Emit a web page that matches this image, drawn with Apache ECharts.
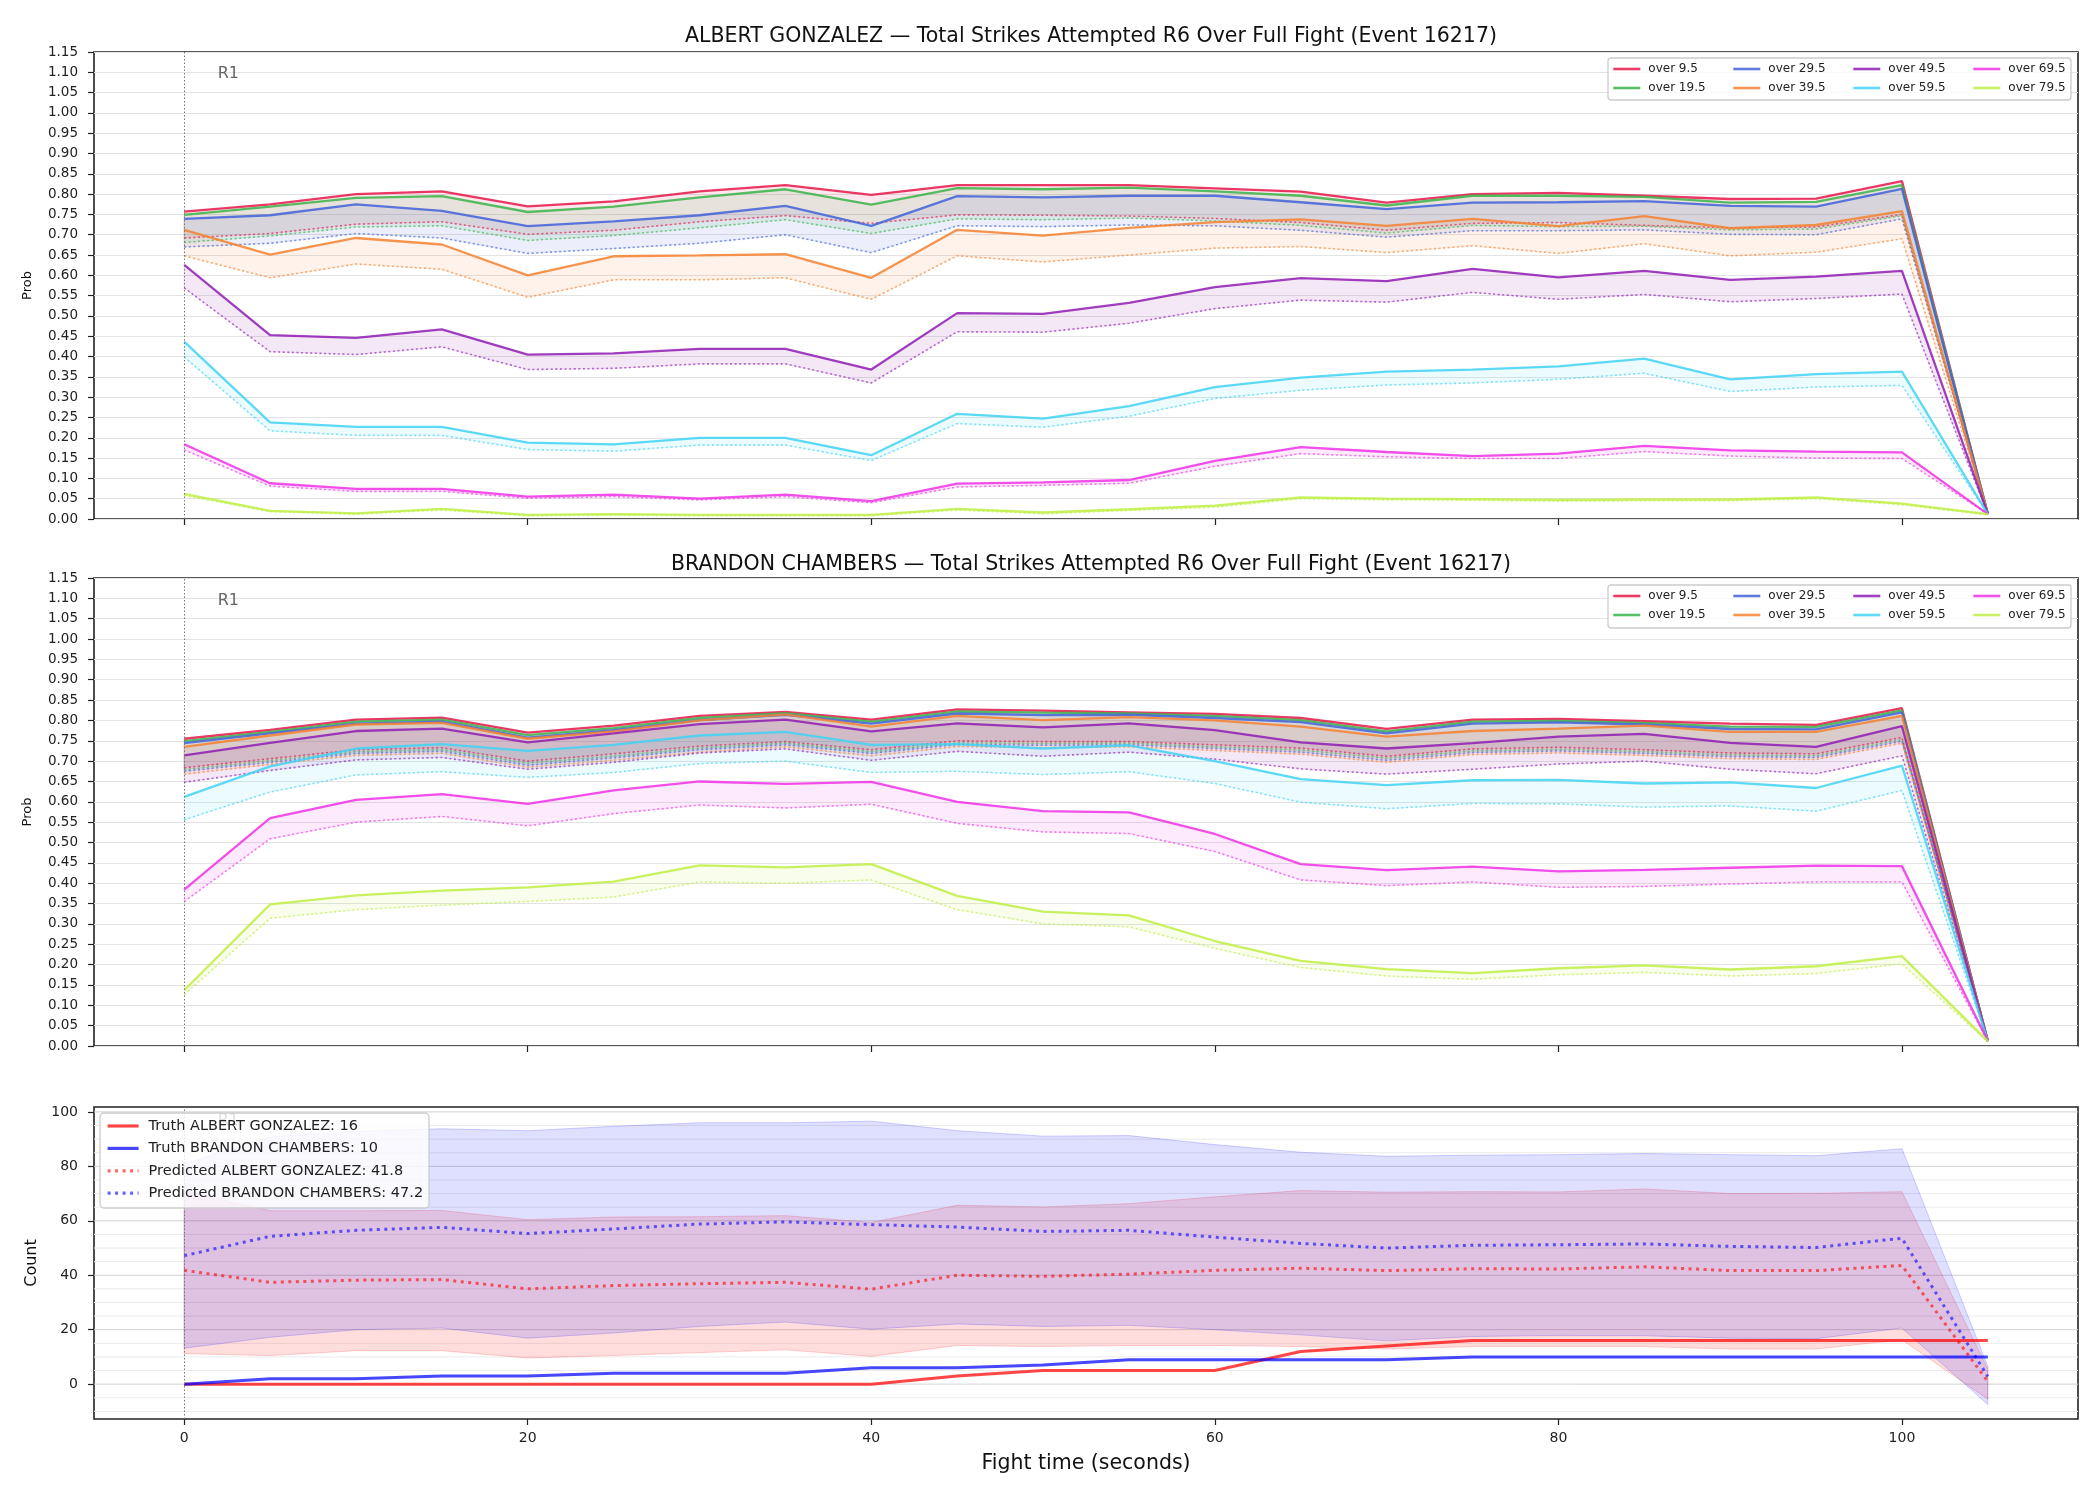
<!DOCTYPE html>
<html><head><meta charset="utf-8">
<script src="https://cdn.jsdelivr.net/npm/echarts@6/dist/echarts.min.js"></script>
<style>html,body{margin:0;padding:0;background:#fff}#c{width:2100px;height:1500px}</style>
</head><body><div id="c"></div>
<script>
// ---------------- DATA ----------------
const times = [0,5,10,15,20,25,30,35,40,45,50,55,60,65,70,75,80,85,90,95,100,105];
const xTicks = [0,20,40,60,80,100];
const countTicks = [0,20,40,60,80,100];
const countGridValues = [-10,-5,0,5,10,15,20,25,30,35,40,45,50,55,60,65,70,75,80,85,90,95,100];
const thresholds = ['over 9.5','over 19.5','over 29.5','over 39.5','over 49.5','over 59.5','over 69.5','over 79.5'];
const fighterA = 'ALBERT GONZALEZ';
const fighterB = 'BRANDON CHAMBERS';
const eventId = 16217;
const roundStarts = [0];
const roundNames = ['R1'];

// ALBERT GONZALEZ: solid (hi) and dotted (lo) probability lines
const ag_o9_hi  = [0.757,0.775,0.800,0.807,0.770,0.782,0.807,0.822,0.798,0.822,0.822,0.822,0.814,0.806,0.779,0.800,0.803,0.796,0.788,0.789,0.832,0.012];
const ag_o9_lo  = [0.692,0.703,0.726,0.732,0.701,0.711,0.732,0.747,0.728,0.749,0.748,0.746,0.740,0.730,0.711,0.728,0.730,0.723,0.717,0.719,0.750,0.012];
const ag_o19_hi = [0.749,0.769,0.791,0.795,0.756,0.769,0.792,0.812,0.774,0.815,0.812,0.816,0.807,0.796,0.772,0.796,0.796,0.793,0.779,0.781,0.822,0.012];
const ag_o19_lo = [0.681,0.697,0.719,0.722,0.686,0.698,0.717,0.737,0.703,0.739,0.737,0.741,0.734,0.723,0.704,0.723,0.720,0.721,0.712,0.714,0.747,0.012];
const ag_o29_hi = [0.739,0.748,0.775,0.759,0.721,0.733,0.748,0.771,0.722,0.795,0.792,0.796,0.796,0.780,0.763,0.779,0.780,0.783,0.771,0.769,0.813,0.012];
const ag_o29_lo = [0.670,0.679,0.703,0.692,0.654,0.666,0.679,0.700,0.656,0.722,0.720,0.724,0.722,0.711,0.694,0.710,0.710,0.712,0.701,0.700,0.739,0.012];
const ag_o39_hi = [0.712,0.651,0.692,0.676,0.600,0.647,0.649,0.652,0.594,0.712,0.698,0.717,0.731,0.738,0.722,0.739,0.721,0.746,0.716,0.724,0.758,0.012];
const ag_o39_lo = [0.648,0.594,0.628,0.615,0.546,0.589,0.589,0.594,0.541,0.648,0.633,0.650,0.667,0.671,0.656,0.673,0.654,0.678,0.648,0.657,0.690,0.012];
const ag_o49_hi = [0.626,0.453,0.446,0.467,0.405,0.408,0.419,0.419,0.368,0.507,0.505,0.532,0.571,0.593,0.586,0.616,0.595,0.611,0.589,0.597,0.611,0.012];
const ag_o49_lo = [0.569,0.412,0.405,0.424,0.368,0.371,0.382,0.382,0.335,0.461,0.460,0.482,0.518,0.539,0.534,0.558,0.541,0.553,0.535,0.543,0.554,0.012];
const ag_o59_hi = [0.437,0.238,0.227,0.227,0.188,0.184,0.200,0.200,0.157,0.259,0.247,0.278,0.325,0.348,0.363,0.368,0.376,0.395,0.344,0.357,0.363,0.012];
const ag_o59_lo = [0.399,0.217,0.206,0.206,0.171,0.167,0.182,0.182,0.144,0.235,0.226,0.253,0.297,0.317,0.330,0.335,0.344,0.359,0.314,0.325,0.329,0.012];
const ag_o69_hi = [0.184,0.088,0.074,0.074,0.055,0.060,0.050,0.060,0.044,0.087,0.090,0.096,0.143,0.177,0.165,0.155,0.161,0.180,0.169,0.166,0.164,0.012];
const ag_o69_lo = [0.170,0.081,0.068,0.068,0.051,0.055,0.047,0.055,0.040,0.079,0.083,0.088,0.130,0.161,0.153,0.149,0.149,0.166,0.155,0.150,0.149,0.012];
const ag_o79_hi = [0.062,0.020,0.014,0.025,0.010,0.012,0.010,0.010,0.010,0.025,0.016,0.024,0.033,0.053,0.050,0.049,0.047,0.048,0.048,0.053,0.038,0.012];
const ag_o79_lo = [0.058,0.018,0.012,0.022,0.008,0.010,0.008,0.008,0.008,0.022,0.013,0.021,0.029,0.050,0.047,0.046,0.044,0.045,0.045,0.050,0.035,0.010];

// BRANDON CHAMBERS
const bc_o9_hi  = [0.755,0.777,0.802,0.807,0.770,0.787,0.811,0.821,0.802,0.827,0.824,0.820,0.816,0.806,0.779,0.802,0.804,0.798,0.792,0.789,0.830,0.012];
const bc_o9_lo  = [0.684,0.706,0.728,0.733,0.700,0.718,0.737,0.748,0.728,0.750,0.748,0.748,0.740,0.732,0.712,0.730,0.734,0.728,0.720,0.718,0.758,0.012];
const bc_o19_hi = [0.749,0.772,0.797,0.802,0.764,0.781,0.806,0.818,0.797,0.822,0.819,0.817,0.811,0.801,0.773,0.797,0.799,0.794,0.785,0.784,0.825,0.012];
const bc_o19_lo = [0.679,0.701,0.723,0.728,0.695,0.712,0.732,0.744,0.723,0.745,0.743,0.744,0.735,0.727,0.707,0.725,0.729,0.723,0.715,0.713,0.753,0.012];
const bc_o29_hi = [0.744,0.768,0.792,0.797,0.758,0.776,0.801,0.814,0.792,0.817,0.813,0.814,0.806,0.796,0.768,0.792,0.795,0.790,0.779,0.778,0.820,0.012];
const bc_o29_lo = [0.675,0.697,0.719,0.724,0.690,0.708,0.728,0.740,0.719,0.741,0.739,0.740,0.731,0.722,0.702,0.721,0.725,0.719,0.711,0.709,0.749,0.012];
const bc_o39_hi = [0.735,0.763,0.790,0.794,0.755,0.773,0.800,0.815,0.785,0.811,0.801,0.808,0.800,0.785,0.760,0.774,0.780,0.787,0.772,0.772,0.811,0.012];
const bc_o39_lo = [0.668,0.692,0.714,0.719,0.685,0.702,0.722,0.735,0.713,0.736,0.733,0.735,0.726,0.717,0.697,0.716,0.720,0.714,0.706,0.704,0.744,0.012];
const bc_o49_hi = [0.714,0.745,0.774,0.780,0.746,0.768,0.791,0.802,0.773,0.793,0.783,0.793,0.776,0.746,0.731,0.744,0.760,0.767,0.745,0.735,0.786,0.012];
const bc_o49_lo = [0.648,0.677,0.703,0.709,0.680,0.697,0.720,0.730,0.702,0.724,0.712,0.722,0.705,0.681,0.668,0.680,0.693,0.700,0.680,0.669,0.713,0.012];
const bc_o59_hi = [0.612,0.687,0.731,0.742,0.725,0.740,0.763,0.772,0.740,0.742,0.731,0.739,0.700,0.656,0.641,0.653,0.654,0.645,0.648,0.634,0.689,0.012];
const bc_o59_lo = [0.556,0.624,0.666,0.674,0.660,0.672,0.694,0.700,0.672,0.675,0.667,0.674,0.645,0.599,0.583,0.596,0.595,0.587,0.590,0.577,0.628,0.012];
const bc_o69_hi = [0.384,0.560,0.605,0.619,0.595,0.628,0.650,0.644,0.649,0.600,0.577,0.574,0.521,0.447,0.432,0.441,0.429,0.433,0.438,0.443,0.442,0.012];
const bc_o69_lo = [0.355,0.509,0.550,0.564,0.541,0.571,0.592,0.585,0.594,0.547,0.526,0.522,0.478,0.408,0.394,0.403,0.390,0.392,0.398,0.403,0.403,0.012];
const bc_o79_hi = [0.137,0.348,0.370,0.382,0.390,0.404,0.444,0.439,0.447,0.369,0.330,0.321,0.258,0.209,0.189,0.179,0.191,0.198,0.188,0.196,0.221,0.012];
const bc_o79_lo = [0.126,0.314,0.335,0.346,0.355,0.366,0.403,0.400,0.408,0.335,0.300,0.293,0.240,0.193,0.172,0.164,0.175,0.181,0.172,0.178,0.202,0.010];

// Cumulative counts
const ag_truth = [0,0,0,0,0,0,0,0,0,3,5,5,5,12,14,16,16,16,16,16,16,16];
const bc_truth = [0,2,2,3,3,4,4,4,6,6,7,9,9,9,9,10,10,10,10,10,10,10];
const ag_pred  = [41.8,37.4,38.2,38.4,35.0,36.2,36.9,37.4,34.9,40.0,39.6,40.4,41.8,42.6,41.7,42.4,42.3,43.1,41.7,41.7,43.6,1.0];
const bc_pred  = [47.2,54.3,56.5,57.6,55.3,57.0,58.8,59.6,58.6,57.7,56.1,56.5,54.0,51.7,50.0,51.0,51.2,51.5,50.6,50.2,53.6,2.8];
const ag_band_hi = [71.0,63.7,63.7,63.8,60.4,61.4,61.5,61.9,59.4,65.7,65.1,66.3,68.8,71.1,70.5,70.7,70.6,71.7,70.0,70.1,70.7,5.5];
const ag_band_lo = [11.2,10.5,12.3,12.3,9.6,10.5,11.6,12.6,10.2,14.2,13.8,14.2,14.2,13.8,12.9,13.8,13.8,13.8,12.9,12.9,16.3,-5.5];
const bc_band_hi = [81.0,90.8,92.9,93.8,93.1,94.7,96.0,96.0,96.6,93.1,91.1,91.3,88.0,85.2,83.7,84.1,84.3,84.7,84.3,83.9,86.5,6.5];
const bc_band_lo = [13.2,17.2,20.0,20.6,16.9,18.8,21.2,22.8,20.2,22.1,21.2,21.6,20.0,18.1,15.9,17.5,17.9,17.8,16.9,16.7,20.6,-7.5];

// ---------------- STYLE ----------------
const palette = ['#e6194b','#3cb44b','#4363d8','#f58231','#911eb4','#42d4f4','#f032e6','#bfef45'];
const FONT = 'DejaVu Sans';
const X_MIN = -5.25, X_MAX = 110.25;
const r1Y = [1.095, 1.093, 96.8];

function rgba(hex, a) {
  const n = parseInt(hex.slice(1), 16);
  return `rgba(${(n>>16)&255},${(n>>8)&255},${n&255},${a})`;
}
const pts = arr => times.map((t, i) => [t, arr[i]]);

function band(g, hi, lo, fill, stroke, z) {
  return {
    type: 'custom', xAxisIndex: g, yAxisIndex: g, silent: true, z: z || 2,
    data: [[times[0], lo[0]]],
    renderItem: (params, api) => {
      const p = [];
      for (let i = 0; i < times.length; i++) p.push(api.coord([times[i], hi[i]]));
      for (let i = times.length - 1; i >= 0; i--) p.push(api.coord([times[i], lo[i]]));
      return { type: 'polygon', shape: { points: p }, style: { fill: fill, stroke: stroke, lineWidth: 1 } };
    }
  };
}

function roundMarks(g) {
  return {
    markLine: {
      silent: true, symbol: ['none','none'], animation: false,
      label: { show: false },
      lineStyle: { color: '#777', type: [1.5, 2], width: 1 },
      data: roundStarts.map(t => ({ xAxis: t }))
    },
    markPoint: {
      silent: true, animation: false, symbol: 'circle', symbolSize: 1,
      itemStyle: { color: 'rgba(0,0,0,0)' },
      label: { show: true, position: 'right', distance: 33, color: '#666', fontSize: 16, fontFamily: FONT,
        formatter: p => p.name },
      data: roundStarts.map((t, j) => ({ name: roundNames[j], coord: [t, r1Y[g]] }))
    }
  };
}

const agHi = [ag_o9_hi, ag_o19_hi, ag_o29_hi, ag_o39_hi, ag_o49_hi, ag_o59_hi, ag_o69_hi, ag_o79_hi];
const agLo = [ag_o9_lo, ag_o19_lo, ag_o29_lo, ag_o39_lo, ag_o49_lo, ag_o59_lo, ag_o69_lo, ag_o79_lo];
const bcHi = [bc_o9_hi, bc_o19_hi, bc_o29_hi, bc_o39_hi, bc_o49_hi, bc_o59_hi, bc_o69_hi, bc_o79_hi];
const bcLo = [bc_o9_lo, bc_o19_lo, bc_o29_lo, bc_o39_lo, bc_o49_lo, bc_o59_lo, bc_o69_lo, bc_o79_lo];

const series = [];
[[agHi, agLo], [bcHi, bcLo]].forEach(([H, L], g) => {
  thresholds.forEach((name, k) => {
    const c = palette[k];
    series.push(band(g, H[k], L[k], rgba(c, 0.1), rgba(c, 0.12), 2));
    const solid = {
      type: 'line', name: name, xAxisIndex: g, yAxisIndex: g, data: pts(H[k]),
      symbol: 'none', z: 3, silent: true,
      lineStyle: { color: c, width: 2.3, opacity: 0.85 }, itemStyle: { color: c }
    };
    if (k === 0) Object.assign(solid, roundMarks(g));
    series.push(solid);
    series.push({
      type: 'line', name: name + ' (low)', xAxisIndex: g, yAxisIndex: g, data: pts(L[k]),
      symbol: 'none', z: 3, silent: true,
      lineStyle: { color: c, width: 1.6, opacity: 0.65, type: [2, 2.6] }, itemStyle: { color: c }
    });
  });
});

// bottom panel gridlines
series.push({
  type: 'custom', xAxisIndex: 2, yAxisIndex: 2, silent: true, z: 1,
  data: countGridValues.map(v => [0, v]),
  renderItem: (params, api) => {
    const v = api.value(1);
    const a = api.coord([X_MIN, v]), b = api.coord([X_MAX, v]);
    return { type: 'line', shape: { x1: a[0], y1: a[1], x2: b[0], y2: b[1] },
      style: { stroke: v % 20 === 0 ? '#d2d2d2' : '#ebebeb', lineWidth: 1 } };
  }
});
series.push(band(2, ag_band_hi, ag_band_lo, 'rgba(255,0,0,0.135)', 'rgba(255,0,0,0.18)', 2));
series.push(band(2, bc_band_hi, bc_band_lo, 'rgba(0,0,255,0.125)', 'rgba(0,0,255,0.18)', 2));
const nTruthA = `Truth ${fighterA}: ${ag_truth[ag_truth.length - 1]}`;
const nTruthB = `Truth ${fighterB}: ${bc_truth[bc_truth.length - 1]}`;
const nPredA = `Predicted ${fighterA}: ${ag_pred[0]}`;
const nPredB = `Predicted ${fighterB}: ${bc_pred[0]}`;
series.push(Object.assign({
  type: 'line', name: nTruthA, xAxisIndex: 2, yAxisIndex: 2, data: pts(ag_truth), symbol: 'none', z: 4, silent: true,
  lineStyle: { color: 'rgba(255,0,0,0.72)', width: 3 }, itemStyle: { color: 'rgba(255,0,0,0.72)' }
}, roundMarks(2)));
series.push({
  type: 'line', name: nTruthB, xAxisIndex: 2, yAxisIndex: 2, data: pts(bc_truth), symbol: 'none', z: 4, silent: true,
  lineStyle: { color: 'rgba(0,0,255,0.72)', width: 3 }, itemStyle: { color: 'rgba(0,0,255,0.72)' }
});
series.push({
  type: 'line', name: nPredA, xAxisIndex: 2, yAxisIndex: 2, data: pts(ag_pred), symbol: 'none', z: 4, silent: true,
  lineStyle: { color: 'rgba(255,0,0,0.6)', width: 3, type: [3, 4.5] }, itemStyle: { color: 'rgba(255,0,0,0.6)' }
});
series.push({
  type: 'line', name: nPredB, xAxisIndex: 2, yAxisIndex: 2, data: pts(bc_pred), symbol: 'none', z: 4, silent: true,
  lineStyle: { color: 'rgba(0,0,255,0.6)', width: 3, type: [3, 4.5] }, itemStyle: { color: 'rgba(0,0,255,0.6)' }
});

// ---------------- AXES / LAYOUT ----------------
const tickStyle = { color: '#222', width: 1.2 };
const grids = [
  { left: 94, width: 1984, top: 52, height: 467 },
  { left: 94, width: 1984, top: 578, height: 468 },
  { left: 94, width: 1984, top: 1107, height: 312 }
].map(g => Object.assign(g, { show: true, borderColor: '#222', borderWidth: 1.6, backgroundColor: 'transparent' }));

const xAxes = [0, 1, 2].map(g => ({
  type: 'value', gridIndex: g, min: X_MIN, max: X_MAX,
  splitLine: { show: false },
  axisLine: { show: false, onZero: false },
  axisTick: { show: true, length: 6, lineStyle: tickStyle, customValues: xTicks },
  axisLabel: { show: g === 2, customValues: xTicks, fontSize: 14, color: '#222', margin: 12, fontFamily: FONT },
  name: g === 2 ? 'Fight time (seconds)' : '', nameLocation: 'middle', nameGap: 34,
  nameTextStyle: { fontSize: 20.5, color: '#111', fontFamily: FONT }
}));
const probAxis = g => ({
  type: 'value', gridIndex: g, min: 0, max: 1.15, interval: 0.05,
  axisLine: { show: false, onZero: false },
  axisTick: { show: true, length: 6, lineStyle: tickStyle },
  axisLabel: { formatter: v => v.toFixed(2), fontSize: 13.5, color: '#222', margin: 16, fontFamily: FONT },
  splitLine: { show: true, lineStyle: { color: '#e3e3e3', width: 1 } },
  name: 'Prob', nameLocation: 'middle', nameGap: 60,
  nameTextStyle: { fontSize: 13, color: '#111', fontFamily: FONT }
});
const yAxes = [probAxis(0), probAxis(1), {
  type: 'value', gridIndex: 2, min: -12.8, max: 101.8,
  axisLine: { show: false, onZero: false },
  axisTick: { show: true, length: 6, lineStyle: tickStyle, customValues: countTicks },
  axisLabel: { customValues: countTicks, fontSize: 14, color: '#222', margin: 16, fontFamily: FONT },
  splitLine: { show: false },
  name: 'Count', nameLocation: 'middle', nameGap: 54,
  nameTextStyle: { fontSize: 16, color: '#111', fontFamily: FONT }
}];

const legends = [];
const colLeft = [1612, 1732, 1852, 1972];
[62, 589].forEach(topY => {
  for (let c = 0; c < 4; c++) {
    legends.push({
      orient: 'vertical', left: colLeft[c], top: topY, padding: 0, itemGap: 5, z: 20,
      itemWidth: 27, itemHeight: 10, selectedMode: false,
      itemStyle: { opacity: 0 },
      lineStyle: { width: 2.6 },
      data: [thresholds[2 * c], thresholds[2 * c + 1]],
      textStyle: { fontSize: 12, color: '#222', fontFamily: FONT, lineHeight: 14, padding: [0, 0, 0, 3] }
    });
  }
});
legends.push({
  orient: 'vertical', left: 106, top: 1117.5, padding: 0, itemGap: 5.4, z: 20,
  itemWidth: 31, itemHeight: 12, selectedMode: false,
  itemStyle: { opacity: 0 },
  lineStyle: { width: 3.2 },
  data: [nTruthA, nTruthB, nPredA, nPredB],
  textStyle: { fontSize: 14.5, color: '#222', fontFamily: FONT, lineHeight: 17, padding: [0, 0, 0, 5] }
});

const frameStyle = { fill: 'rgba(255,255,255,0.8)', stroke: '#cccccc', lineWidth: 1.3 };
const option = {
  animation: false,
  backgroundColor: '#ffffff',
  textStyle: { fontFamily: FONT },
  title: [
    { text: `${fighterA} — Total Strikes Attempted R6 Over Full Fight (Event ${eventId})`, left: 1086, top: 21, textAlign: 'center',
      textStyle: { fontSize: 20.5, fontWeight: 'normal', color: '#111', fontFamily: FONT } },
    { text: `${fighterB} — Total Strikes Attempted R6 Over Full Fight (Event ${eventId})`, left: 1086, top: 549, textAlign: 'center',
      textStyle: { fontSize: 20.5, fontWeight: 'normal', color: '#111', fontFamily: FONT } }
  ],
  grid: grids,
  xAxis: xAxes,
  yAxis: yAxes,
  legend: legends,
  graphic: [
    { type: 'rect', z: 10, silent: true, shape: { x: 1608, y: 58, width: 463, height: 42, r: 3 }, style: frameStyle },
    { type: 'rect', z: 10, silent: true, shape: { x: 1608, y: 585, width: 463, height: 43, r: 3 }, style: frameStyle },
    { type: 'rect', z: 10, silent: true, shape: { x: 100, y: 1113, width: 329, height: 95, r: 4 }, style: frameStyle }
  ],
  series: series
};
const chart = echarts.init(document.getElementById('c'), null, { renderer: 'canvas', width: 2100, height: 1500 });
chart.setOption(option);
</script>
</body></html>
